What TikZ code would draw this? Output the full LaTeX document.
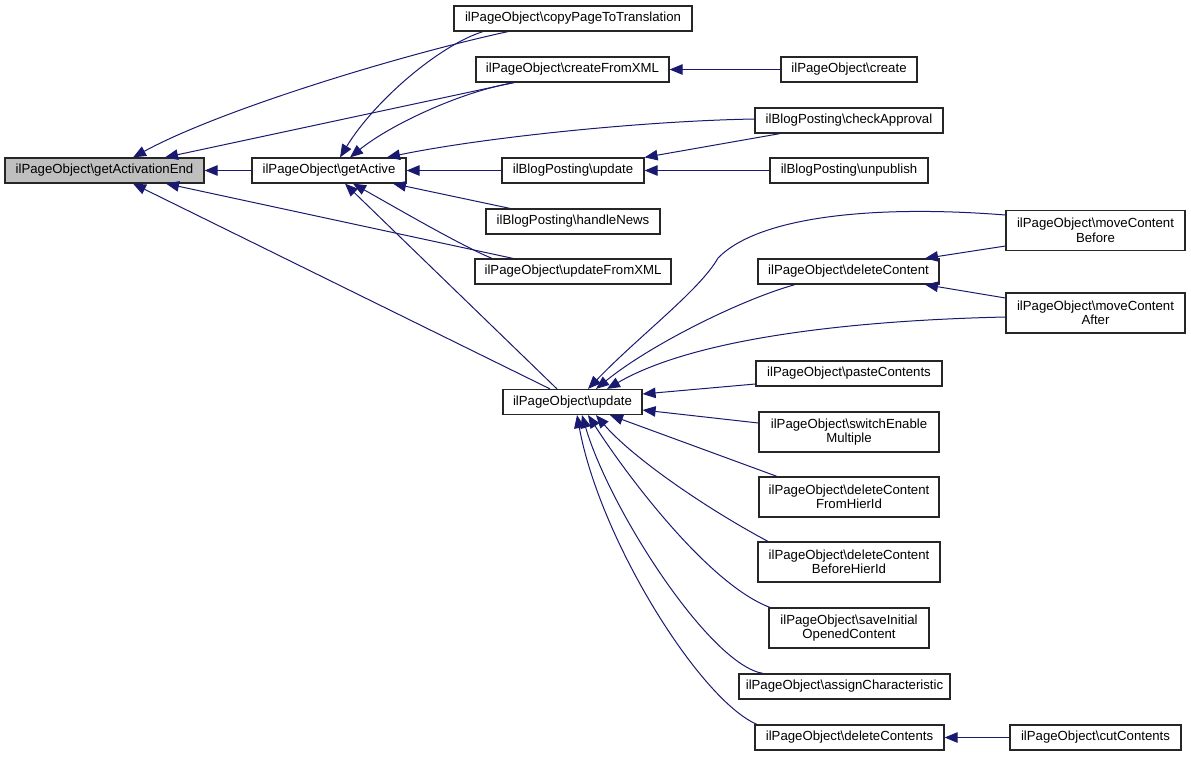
\documentclass[tikz,border=0pt]{standalone}
\usepackage{fontspec}
\setmainfont{Liberation Sans}
\usetikzlibrary{arrows.meta}
\definecolor{navy}{HTML}{191970}
\definecolor{hlgray}{HTML}{BFBFBF}
\newcommand{\mybs}{\textbackslash}
\begin{document}
\begin{tikzpicture}[x=1pt,y=-1pt,
  box/.style={draw=black!85, line width=1.2pt, fill=white, inner sep=0pt, align=center,
    font=\fontsize{13.2}{14.5}\selectfont, minimum height=25pt},
  tall/.style={minimum height=40pt},
  edge/.style={draw=navy, line width=1pt, -{Triangle[length=13pt,width=10.5pt]}}]
\useasboundingbox (0,0) rectangle (1191,756);
% nodes
\node[box, fill=hlgray, minimum width=199pt] (gae) at (104.5,170.5) {ilPageObject\mybs getActivationEnd};
\node[box, minimum width=154pt] (ga) at (329,170.5) {ilPageObject\mybs getActive};
\node[box, minimum width=238pt] (cpt) at (573,18.5) {ilPageObject\mybs copyPageToTranslation};
\node[box, minimum width=193pt] (cfx) at (572.5,69.5) {ilPageObject\mybs createFromXML};
\node[box, minimum width=136pt] (cre) at (849,69.5) {ilPageObject\mybs create};
\node[box, minimum width=188pt] (cha) at (849,120.5) {ilBlogPosting\mybs checkApproval};
\node[box, minimum width=142pt] (bup) at (573,170.5) {ilBlogPosting\mybs update};
\node[box, minimum width=158pt] (unp) at (849,170.5) {ilBlogPosting\mybs unpublish};
\node[box, minimum width=174pt] (hn) at (573,221.5) {ilBlogPosting\mybs handleNews};
\node[box, minimum width=196pt] (ufx) at (573,271.5) {ilPageObject\mybs updateFromXML};
\node[box, tall, minimum width=179pt] (mcb) at (1095.5,230.5) {ilPageObject\mybs moveContent\\Before};
\node[box, minimum width=181pt] (dc) at (848.5,271.5) {ilPageObject\mybs deleteContent};
\node[box, tall, minimum width=179pt] (mca) at (1095.5,313) {ilPageObject\mybs moveContent\\After};
\node[box, minimum width=139pt] (pu) at (572.5,402) {ilPageObject\mybs update};
\node[box, minimum width=186pt] (pc) at (849,373.5) {ilPageObject\mybs pasteContents};
\node[box, tall, minimum width=180pt] (sem) at (849,432) {ilPageObject\mybs switchEnable\\Multiple};
\node[box, tall, minimum width=180pt] (dcf) at (849,497) {ilPageObject\mybs deleteContent\\FromHierId};
\node[box, tall, minimum width=182pt] (dcb) at (849,562) {ilPageObject\mybs deleteContent\\BeforeHierId};
\node[box, tall, minimum width=160pt] (sio) at (849,628) {ilPageObject\mybs saveInitial\\OpenedContent};
\node[box, minimum width=211pt] (ac) at (844.5,686.5) {ilPageObject\mybs assignCharacteristic};
\node[box, minimum width=189pt] (dcs) at (849.5,737.5) {ilPageObject\mybs deleteContents};
\node[box, minimum width=171pt] (cut) at (1095.5,737.5) {ilPageObject\mybs cutContents};
% edges
\draw[edge] (ga.west) -- (gae.east);
\draw[edge] ([xshift=-65pt]cpt.south) .. controls (400,55) and (220,110) .. ([xshift=28.5pt]gae.north);
\draw[edge] ([xshift=-90pt]cpt.south) .. controls (440,45) and (375,100) .. ([xshift=11pt]ga.north);
\draw[edge] ([xshift=-58.5pt]cfx.south) -- ([xshift=60.5pt]gae.north);
\draw[edge] ([xshift=-58.5pt]cfx.south) .. controls (460,92) and (390,125) .. ([xshift=21pt]ga.north);
\draw[edge] ([yshift=1.5pt]cha.west) .. controls (640,121) and (480,138) .. ([xshift=58pt]ga.north);
\draw[edge] ([xshift=-69pt]cha.south) -- (bup.north east);
\draw[edge] (bup.west) -- (ga.east);
\draw[edge] (unp.west) -- (bup.east);
\draw[edge] ([xshift=-63pt]hn.north) -- ([xshift=64pt]ga.south);
\draw[edge] ([xshift=-60pt]ufx.north) -- ([xshift=61.5pt]gae.south);
\draw[edge] ([xshift=-81pt]ufx.north) .. controls (460,245) and (400,210) .. ([xshift=24pt]ga.south);
\draw[edge] ([xshift=-22.5pt]pu.north) -- ([xshift=28.5pt]gae.south);
\draw[edge] ([xshift=-15.5pt]pu.north) -- ([xshift=16pt]ga.south);
\draw[edge] (cre.west) -- (cfx.east);
\draw[edge] ([xshift=-53.5pt]dc.south) .. controls (740,300) and (650,345) .. ([xshift=23.5pt]pu.north);
\draw[edge] ([yshift=-15.5pt]mcb.west) -- ([xshift=76.5pt]dc.north);
\draw[edge] ([yshift=15pt]mca.west) -- ([xshift=76.5pt]dc.south);
\draw[edge] ([yshift=15.5pt]mcb.west) .. controls (880,205) and (760,215) .. (718,258)
  .. controls (700,290) and (640,335) .. ([xshift=15.5pt]pu.north);
\draw[edge] ([yshift=-4pt]mca.west) .. controls (870,320) and (700,335) .. ([xshift=34.5pt]pu.north);
\draw[edge] ([yshift=-10.5pt]pc.west) -- ([yshift=8pt]pu.east);
\draw[edge] ([yshift=9pt]sem.west) -- ([yshift=-8pt]pu.east);
\draw[edge] ([xshift=-72pt]dcf.north) -- ([xshift=37.5pt]pu.south);
\draw[edge] ([xshift=-81pt]dcb.north) .. controls (700,505) and (630,455) .. ([xshift=23.5pt]pu.south);
\draw[edge] ([xshift=-79pt]sio.north) .. controls (710,585) and (630,480) .. ([xshift=15.5pt]pu.south);
\draw[edge] ([xshift=-81.5pt]ac.north) .. controls (710,665) and (610,510) .. ([xshift=9.5pt]pu.south);
\draw[edge] ([xshift=-92.5pt]dcs.north) .. controls (700,700) and (600,540) .. ([xshift=4.5pt]pu.south);
\draw[edge] (cut.west) -- (dcs.east);
\end{tikzpicture}
\end{document}
